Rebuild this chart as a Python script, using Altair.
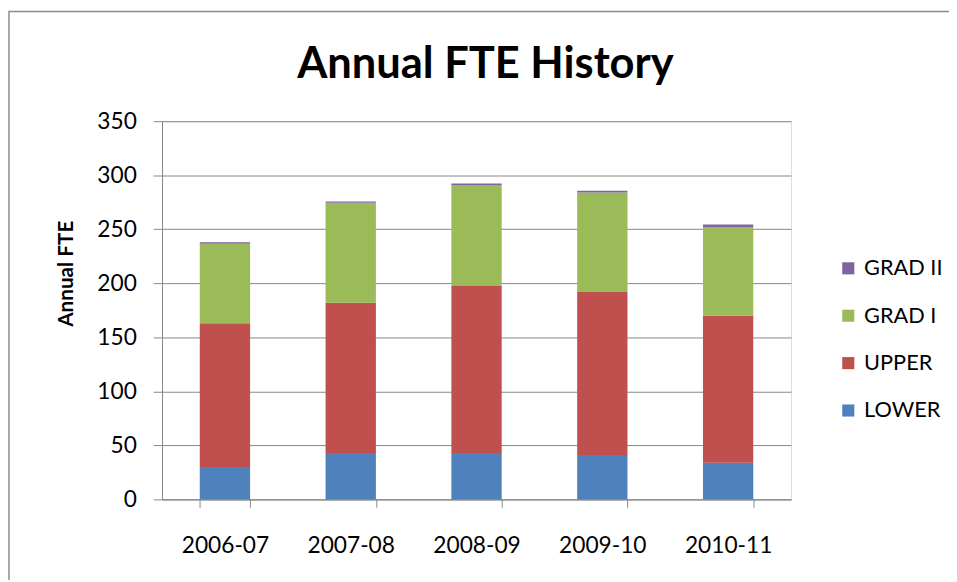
import altair as alt
import pandas as pd

years = ["2006-07", "2007-08", "2008-09", "2009-10", "2010-11"]
series = ["LOWER", "UPPER", "GRAD I", "GRAD II"]
lower = [30, 43, 43, 41, 34]
upper = [133, 139, 154.5, 151, 136]
grad1 = [73.5, 92.5, 93.5, 92, 82]
grad2 = [1.5, 1.2, 1.3, 1.6, 2.4]
colors = {"GRAD II": "#8064A2", "GRAD I": "#9BBB59", "UPPER": "#C0504D", "LOWER": "#4F81BD"}

rows = []
for vals, name in zip([lower, upper, grad1, grad2], series):
    for y, v in zip(years, vals):
        rows.append({"Year": y, "Level": name, "FTE": v, "ord": series.index(name)})
df = pd.DataFrame(rows)

legend_order = ["GRAD II", "GRAD I", "UPPER", "LOWER"]
FONT = "Lato"

bars = alt.Chart(df).mark_bar().encode(
    x=alt.X("Year:N", sort=years, title=None,
            scale=alt.Scale(paddingInner=0.6, paddingOuter=0.3),
            axis=alt.Axis(labelAngle=0, tickBand="extent", labelFontSize=23,
                          labelFont=FONT, labelColor="#000000", labelPadding=28,
                          tickSize=8, domainColor="#868686", tickColor="#868686",
                          grid=False)),
    y=alt.Y("FTE:Q", stack="zero", scale=alt.Scale(domain=[0, 350], nice=False),
            title="Annual FTE",
            axis=alt.Axis(values=[0, 50, 100, 150, 200, 250, 300, 350],
                          labelFontSize=23, labelFont=FONT, labelColor="#000000",
                          labelPadding=17, tickSize=9, domainColor="#868686",
                          tickColor="#868686", gridColor="#868686",
                          titleFont=FONT, titleFontSize=21, titleFontWeight="bold",
                          titleColor="#000000", titleAngle=-90, titleAlign="center",
                          titleBaseline="middle", titleX=-97, titleY=154)),
    color=alt.Color("Level:N",
                    scale=alt.Scale(domain=legend_order,
                                    range=[colors[k] for k in legend_order]),
                    legend=alt.Legend(title=None, orient="none", legendX=684, legendY=138,
                                      labelFont=FONT, labelFontSize=22,
                                      labelColor="#000000", symbolType="square",
                                      symbolSize=150, symbolStrokeWidth=0,
                                      rowPadding=26, labelOffset=5)),
    order=alt.Order("ord:Q", sort="ascending"),
)

border = alt.Chart(pd.DataFrame({"a": [0]})).mark_rect(
    fill=None, stroke="#8c8c8c", strokeWidth=1.5
).encode(x=alt.value(-155), x2=alt.value(800), y=alt.value(-111), y2=alt.value(470))

chart = alt.layer(border, bars).properties(
    width=637, height=383,
    title=alt.TitleParams("Annual FTE History", font=FONT, fontSize=44,
                          fontWeight="bold", color="#000000", anchor="middle",
                          frame="group", baseline="alphabetic", offset=44, dy=156, dx=9),
    autosize=alt.AutoSizeParams(type="none"),
    padding={"left": 156, "top": 111, "right": 160, "bottom": 78},
).configure_view(stroke=None).configure(background="white")

chart.save("out.html", embed_options={"renderer": "svg", "actions": False})
